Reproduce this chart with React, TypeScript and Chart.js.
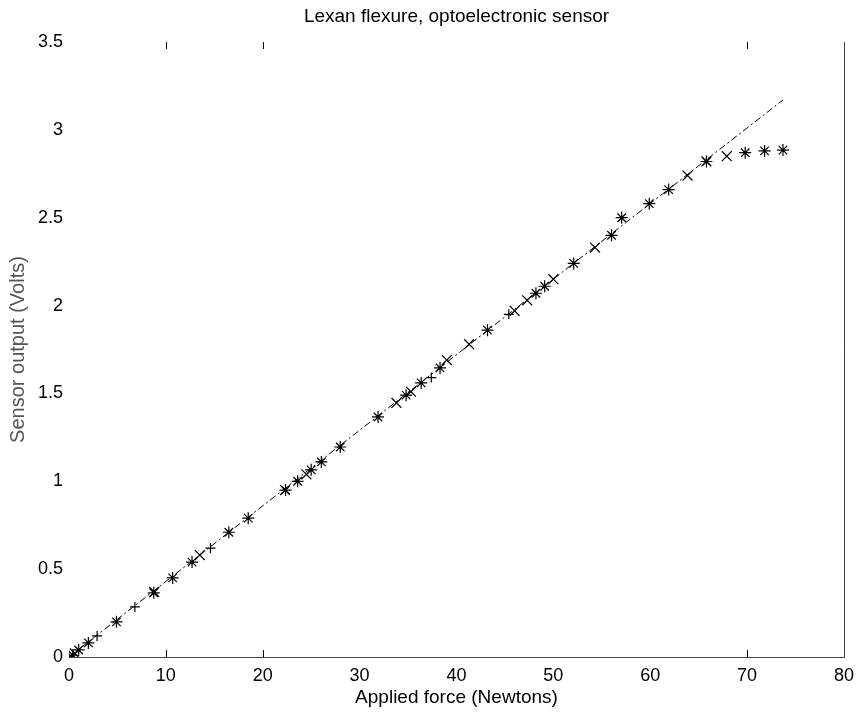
import React, { useEffect, useRef } from "react";
import { Chart, registerables } from "chart.js";

Chart.register(...registerables);

const chartTitle = "Lexan flexure, optoelectronic sensor";
const xTitle = "Applied force (Newtons)";
const yTitle = "Sensor output (Volts)";

const xMin = 0;
const xMax = 80;
const xStep = 10;
const yMin = 0;
const yMax = 3.5;
const yStep = 0.5;

// '*' markers
const starForce = [0, 0.4, 1.0, 2.0, 4.9, 8.75, 10.7, 12.7, 16.5, 18.5, 22.35, 23.6, 25.0, 26.05, 28.0, 31.9, 34.8, 36.35, 38.3, 43.2, 48.2, 49.1, 52.1, 56.0, 57.05, 59.9, 61.9, 65.8, 69.8, 71.8, 73.7];
const starVolt = [0, 0.01, 0.04, 0.08, 0.2, 0.365, 0.45, 0.54, 0.71, 0.79, 0.95, 1.0, 1.065, 1.11, 1.195, 1.366, 1.49, 1.56, 1.645, 1.86, 2.07, 2.11, 2.24, 2.4, 2.5, 2.58, 2.66, 2.82, 2.87, 2.88, 2.885];

// 'x' markers
const crossForce = [0.6, 8.8, 13.5, 22.3, 24.5, 33.8, 35.3, 39.0, 41.3, 46.0, 47.3, 50.0, 54.3, 63.85, 65.8, 67.9];
const crossVolt = [0.02, 0.37, 0.58, 0.95, 1.04, 1.446, 1.51, 1.69, 1.78, 1.97, 2.03, 2.15, 2.33, 2.74, 2.82, 2.85];

// '+' markers
const plusForce = [2.9, 6.8, 14.6, 37.4, 45.4];
const plusVolt = [0.12, 0.285, 0.62, 1.59, 1.95];

// linear fit line
const fitForce = [0, 73.7];
const fitVolt = [0, 3.17];

// tick marks visible on the frame
const frameTickForce = [10, 20, 70];

const FONT = "'Liberation Sans', Arial, Helvetica, sans-serif";

const pts = (xs: number[], ys: number[]) => xs.map((x, i) => ({ x, y: ys[i] }));

const framePlugin = {
  id: "matlabFrame",
  afterDatasetsDraw(chart: any) {
    const { ctx, chartArea: a, scales } = chart;
    ctx.save();
    ctx.lineWidth = 1;
    ctx.strokeStyle = "#444";
    ctx.beginPath();
    ctx.moveTo(a.left, Math.round(a.bottom) + 0.5);
    ctx.lineTo(Math.round(a.right) + 1, Math.round(a.bottom) + 0.5);
    ctx.moveTo(Math.round(a.right) + 0.5, a.top);
    ctx.lineTo(Math.round(a.right) + 0.5, Math.round(a.bottom) + 0.5);
    ctx.stroke();
    ctx.strokeStyle = "#000";
    ctx.beginPath();
    for (const v of frameTickForce) {
      const x = Math.round(scales.x.getPixelForValue(v)) + 0.5;
      ctx.moveTo(x, a.bottom);
      ctx.lineTo(x, a.bottom - 7);
      ctx.moveTo(x, a.top);
      ctx.lineTo(x, a.top + 7);
    }
    ctx.stroke();
    // title centred over the axes box
    ctx.fillStyle = "#000";
    ctx.font = `19px ${FONT}`;
    ctx.textAlign = "center";
    ctx.textBaseline = "middle";
    ctx.fillText(chartTitle, (a.left + a.right) / 2, 17);
    ctx.restore();
  },
};

export default function App() {
  const ref = useRef<HTMLCanvasElement | null>(null);

  useEffect(() => {
    if (!ref.current) return;
    const common = {
      showLine: false,
      borderColor: "#000",
      backgroundColor: "#000",
      borderWidth: 1,
      pointBorderWidth: 1.2,
    };
    const chart = new Chart(ref.current, {
      type: "scatter",
      data: {
        datasets: [
          {
            label: "fit",
            data: pts(fitForce, fitVolt),
            showLine: true,
            borderColor: "#000",
            borderWidth: 1,
            borderDash: [7, 3, 2, 3],
            pointRadius: 0,
          },
          {
            label: "star",
            data: pts(starForce, starVolt),
            ...common,
            pointStyle: "star",
            pointRadius: 6,
          },
          {
            label: "cross",
            data: pts(crossForce, crossVolt),
            ...common,
            pointStyle: "crossRot",
            pointRadius: 7,
          },
          {
            label: "plus",
            data: pts(plusForce, plusVolt),
            ...common,
            pointStyle: "cross",
            pointRadius: 5,
          },
        ],
      },
      options: {
        animation: false,
        responsive: false,
        devicePixelRatio: 1,
        layout: { padding: { left: 0, right: 16, top: 42, bottom: 0 } },
        plugins: {
          legend: { display: false },
          tooltip: { enabled: false },
          title: { display: false },
        },
        scales: {
          x: {
            type: "linear",
            min: xMin,
            max: xMax,
            grid: { display: false, drawTicks: false },
            border: { display: false },
            ticks: {
              stepSize: xStep,
              color: "#000",
              padding: 8,
              maxRotation: 0,
              font: { family: FONT, size: 18 },
            },
            title: {
              display: true,
              text: xTitle,
              color: "#000",
              font: { family: FONT, size: 19 },
              padding: { top: 0, bottom: 4 },
            },
            afterFit: (s: any) => {
              s.height = 56;
            },
          },
          y: {
            type: "linear",
            min: yMin,
            max: yMax,
            grid: { display: false, drawTicks: false },
            border: { display: false },
            ticks: {
              stepSize: yStep,
              color: "#000",
              padding: 6,
              font: { family: FONT, size: 18 },
              callback: (v: any) => String(Number(v)),
            },
            title: {
              display: true,
              text: yTitle,
              color: "#555",
              font: { family: FONT, size: 20 },
              padding: { top: 6, bottom: 0 },
            },
            afterFit: (s: any) => {
              s.width = 69;
            },
          },
        },
      },
      plugins: [framePlugin],
    });
    return () => chart.destroy();
  }, []);

  return (
    <div style={{ position: "fixed", left: 0, top: 0, width: 862, height: 713, background: "#fff" }}>
      <canvas ref={ref} width={862} height={713} style={{ display: "block" }} />
    </div>
  );
}
